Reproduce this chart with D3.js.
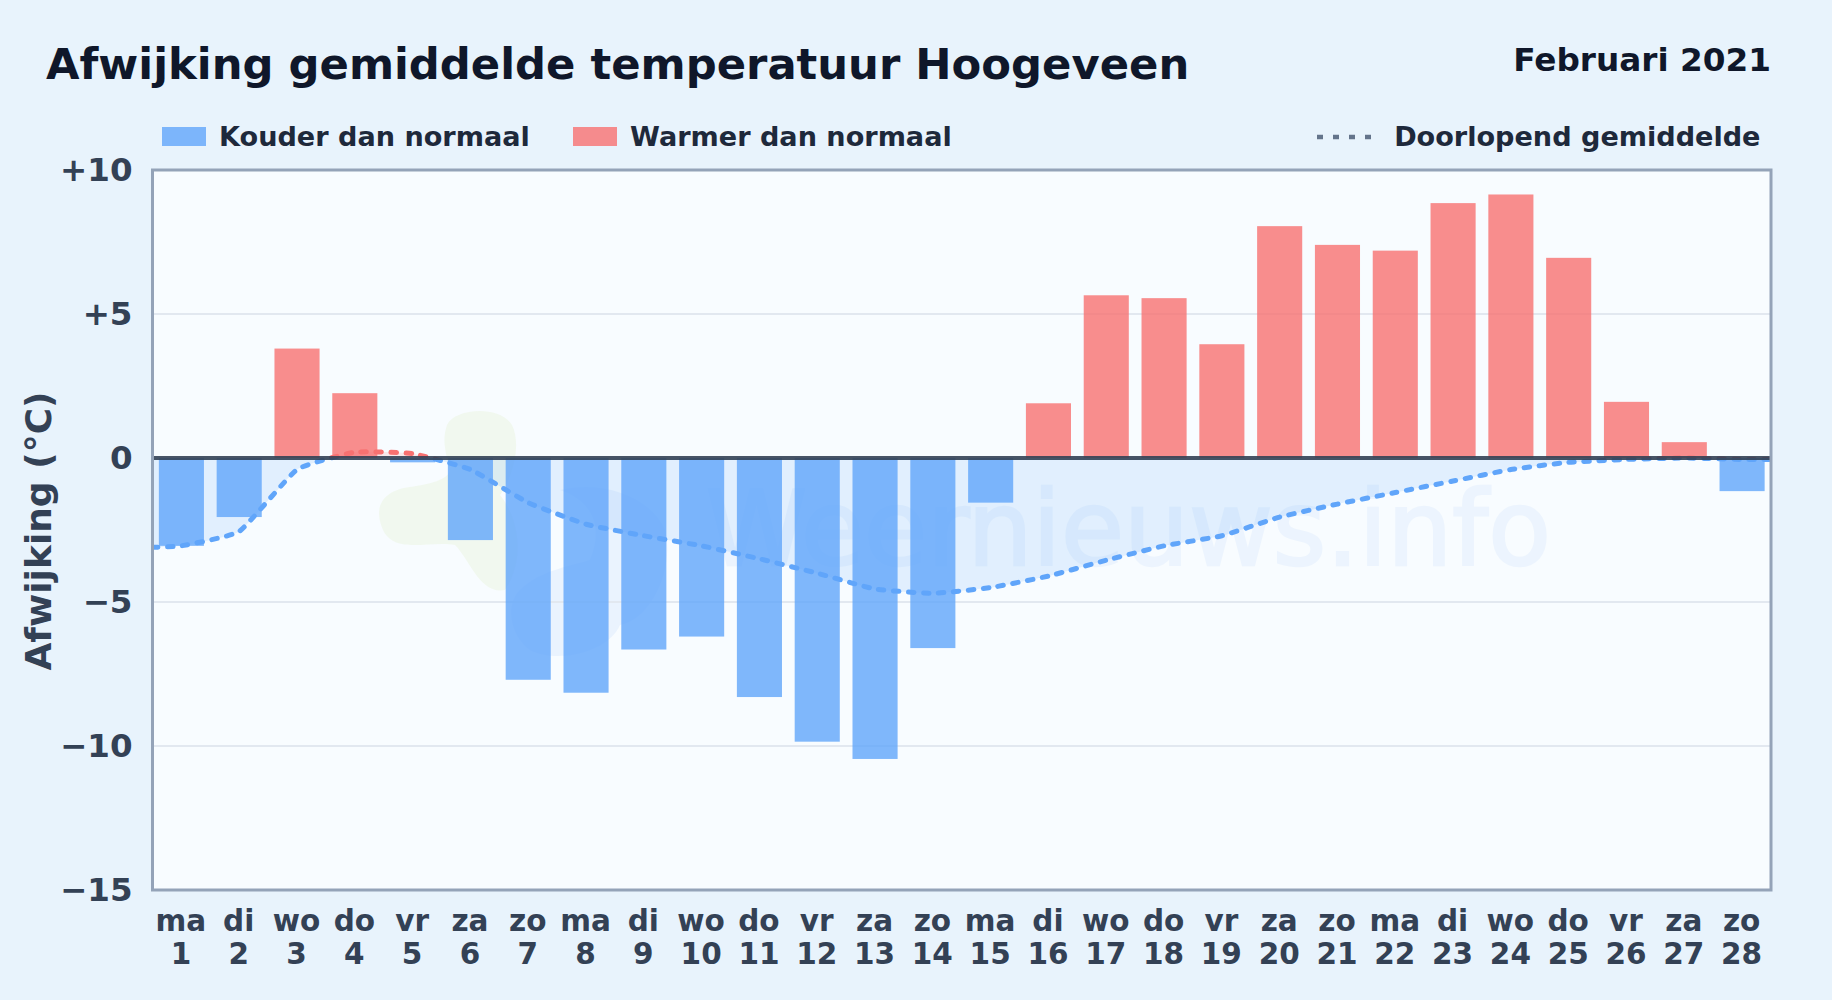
<!DOCTYPE html>
<html>
<head>
<meta charset="utf-8">
<script src="https://cdn.jsdelivr.net/npm/d3@7"></script>
<style>
html, body { margin: 0; padding: 0; background: #e8f3fc; }
svg { display: block; }
text { font-family: "DejaVu Sans", sans-serif; font-weight: bold; }
</style>
</head>
<body>
<div id="chart"></div>
<script>
var weekdays = ["ma","di","wo","do","vr","za","zo","ma","di","wo","do","vr","za","zo",
	"ma","di","wo","do","vr","za","zo","ma","di","wo","do","vr","za","zo"];
var days = d3.range(1, 29);
var deviation = [-3.05,-2.05,3.8,2.25,-0.15,-2.85,-7.7,-8.15,-6.65,-6.2,-8.3,-9.85,-10.45,-6.6,
	-1.55,1.9,5.65,5.55,3.95,8.05,7.4,7.2,8.85,9.15,6.95,1.95,0.55,-1.15];
// running mean, the line runs on to the plot edges so days 0.5 and 28.5 are in here
var runningDays = [0.5,1,2,3,4,5,6,7,8,9,10,11,12,13,14,15,16,17,18,19,20,21,22,23,24,25,26,27,28,28.5];
var runningMean = [-3.1,-3.05,-2.55,-0.4,0.2,0.15,-0.4,-1.55,-2.3,-2.7,-3.05,-3.5,-4.0,-4.55,-4.7,
	-4.5,-4.1,-3.55,-3.05,-2.7,-2.05,-1.6,-1.2,-0.8,-0.4,-0.15,-0.05,0,-0.05,-0.05];
var yTicks = [10, 5, 0, -5, -10, -15];
var gridTicks = [5, -5, -10];

var width = 1832, height = 1000,
	plotLeft = 152.5, plotRight = 1771, plotTop = 170, plotBottom = 890;

var blue = "#60a5fa", red = "#f87171";

var svg = d3.select("#chart").append("svg")
	.attr("width", width)
	.attr("height", height);

svg.append("rect")
	.attr("width", width)
	.attr("height", height)
	.attr("fill", "#e8f3fc");

var x = d3.scaleBand().domain(days).range([plotLeft, plotRight]).paddingInner(0.22).paddingOuter(0.11);
var xLine = d3.scaleLinear().domain([0.5, 28.5]).range([plotLeft, plotRight]);
var y = d3.scaleLinear().domain([-15, 10]).range([plotBottom, plotTop]);

var defs = svg.append("defs");
defs.append("clipPath").attr("id", "clipBelow").append("rect")
	.attr("x", plotLeft).attr("y", y(0)).attr("width", plotRight - plotLeft).attr("height", plotBottom - y(0));
defs.append("clipPath").attr("id", "clipAbove").append("rect")
	.attr("x", plotLeft).attr("y", plotTop).attr("width", plotRight - plotLeft).attr("height", y(0) - plotTop);

svg.append("rect")
	.attr("x", plotLeft).attr("y", plotTop)
	.attr("width", plotRight - plotLeft).attr("height", plotBottom - plotTop)
	.attr("fill", "#f8fcff");

drawWatermark();

// gridlines
svg.selectAll(".grid").data(gridTicks).enter().append("line")
	.attr("class", "grid")
	.attr("x1", plotLeft).attr("x2", plotRight)
	.attr("y1", function(d) { return y(d); })
	.attr("y2", function(d) { return y(d); })
	.attr("stroke", "#e2e8f0")
	.attr("stroke-width", 2);

// area between running mean and zero
var curve = d3.curveCardinal.tension(0.6);
var area = d3.area()
	.x(function(d, i) { return xLine(runningDays[i]); })
	.y0(y(0))
	.y1(function(d) { return y(d); })
	.curve(curve);
var line = d3.line()
	.x(function(d, i) { return xLine(runningDays[i]); })
	.y(function(d) { return y(d); })
	.curve(curve);

[["clipBelow", blue], ["clipAbove", red]].forEach(function(part) {
	svg.append("path")
		.attr("d", area(runningMean))
		.attr("clip-path", "url(#" + part[0] + ")")
		.attr("fill", part[1])
		.attr("fill-opacity", 0.15);
});

// bars
svg.selectAll(".bar").data(deviation).enter().append("rect")
	.attr("class", "bar")
	.attr("x", function(d, i) { return x(days[i]); })
	.attr("y", function(d) { return y(Math.max(d, 0)); })
	.attr("width", x.bandwidth())
	.attr("height", function(d) { return Math.abs(y(d) - y(0)); })
	.attr("fill", function(d) { return d < 0 ? blue : red; })
	.attr("fill-opacity", 0.8);

[["clipBelow", blue], ["clipAbove", red]].forEach(function(part) {
	svg.append("path")
		.attr("d", line(runningMean))
		.attr("clip-path", "url(#" + part[0] + ")")
		.attr("fill", "none")
		.attr("stroke", part[1])
		.attr("stroke-width", 5)
		.attr("stroke-linecap", "round")
		.attr("stroke-dasharray", "5.5 9.5");
});

// zero line and frame
svg.append("line")
	.attr("x1", plotLeft).attr("x2", plotRight)
	.attr("y1", y(0)).attr("y2", y(0))
	.attr("stroke", "#334155")
	.attr("stroke-opacity", 0.9)
	.attr("stroke-width", 4);

svg.append("rect")
	.attr("x", plotLeft).attr("y", plotTop)
	.attr("width", plotRight - plotLeft).attr("height", plotBottom - plotTop)
	.attr("fill", "none")
	.attr("stroke", "#94a3b8")
	.attr("stroke-width", 3);

// axes
var yAxis = d3.axisLeft(y)
	.tickValues(yTicks)
	.tickSize(0)
	.tickPadding(20)
	.tickFormat(function(d) { return d > 0 ? "+" + d : d < 0 ? "\u2212" + Math.abs(d) : "0"; });
var gy = svg.append("g").attr("transform", "translate(" + plotLeft + ",0)").call(yAxis);
gy.select(".domain").remove();
gy.selectAll("text")
	.attr("font-size", 32.5)
	.attr("fill", "#334155");

var xAxis = d3.axisBottom(x).tickSize(0).tickFormat("");
var gx = svg.append("g").attr("transform", "translate(0," + plotBottom + ")").call(xAxis);
gx.select(".domain").remove();
gx.selectAll("text").remove();
gx.selectAll(".tick").each(function(d, i) {
	var t = d3.select(this).append("text")
		.attr("text-anchor", "middle")
		.attr("font-size", 29.5)
		.attr("fill", "#334155");
	t.append("tspan").attr("x", -0.5).attr("y", 41).text(weekdays[i]);
	t.append("tspan").attr("x", -0.5).attr("y", 74).text(days[i]);
});

svg.append("text")
	.attr("transform", "translate(51,531) rotate(-90)")
	.attr("text-anchor", "middle")
	.attr("font-size", 36)
	.attr("fill", "#334155")
	.text("Afwijking (\u00b0C)");

// titles
svg.append("text")
	.attr("x", 46).attr("y", 79)
	.attr("font-size", 43.3)
	.attr("fill", "#0f172a")
	.text("Afwijking gemiddelde temperatuur Hoogeveen");
svg.append("text")
	.attr("x", 1771).attr("y", 70.5)
	.attr("text-anchor", "end")
	.attr("font-size", 32.7)
	.attr("fill", "#0f172a")
	.text("Februari 2021");

// legend
var legendItems = [
	{ x: 162, color: blue, label: "Kouder dan normaal" },
	{ x: 573, color: red, label: "Warmer dan normaal" }
];
legendItems.forEach(function(item) {
	svg.append("rect")
		.attr("x", item.x).attr("y", 127)
		.attr("width", 44).attr("height", 19)
		.attr("fill", item.color)
		.attr("fill-opacity", 0.8);
	svg.append("text")
		.attr("x", item.x + 57).attr("y", 146)
		.attr("font-size", 27.1)
		.attr("fill", "#1e293b")
		.text(item.label);
});
svg.append("line")
	.attr("x1", 1317).attr("x2", 1375)
	.attr("y1", 137).attr("y2", 137)
	.attr("stroke", "#64748b")
	.attr("stroke-width", 4.5)
	.attr("stroke-dasharray", "6 10");
svg.append("text")
	.attr("x", 1760.5).attr("y", 146)
	.attr("text-anchor", "end")
	.attr("font-size", 27.1)
	.attr("fill", "#1e293b")
	.text("Doorlopend gemiddelde");

function drawWatermark() {
	var g = svg.append("g").attr("class", "watermark");
	// land shape
	g.append("path")
		.attr("d", "M447 425 C455 408 500 405 512 425 C522 445 512 480 500 495 C520 520 525 560 505 590 C480 595 470 560 455 545 C430 540 395 555 383 530 C372 505 385 490 410 487 C430 484 448 480 450 470 C445 450 442 440 447 425 Z")
		.attr("fill", "#dcefb4")
		.attr("fill-opacity", 0.22);
	// blue logo part
	g.append("path")
		.attr("d", "M520 590 C540 570 575 565 590 560 C605 525 590 500 560 490 C600 480 650 495 665 530 C675 570 650 620 620 625 C610 650 560 665 530 650 C510 635 505 605 520 590 Z")
		.attr("fill", "#3b82f6")
		.attr("fill-opacity", 0.07);
	g.append("text")
		.attr("x", 1551).attr("y", 565)
		.attr("text-anchor", "end")
		.attr("font-size", 102.5)
		.attr("style", "font-weight: normal")
		.attr("fill", "#3b82f6")
		.attr("stroke", "#3b82f6")
		.attr("stroke-width", 2.5)
		.attr("opacity", 0.06)
		.text("Weernieuws.info");
}
</script>
</body>
</html>
